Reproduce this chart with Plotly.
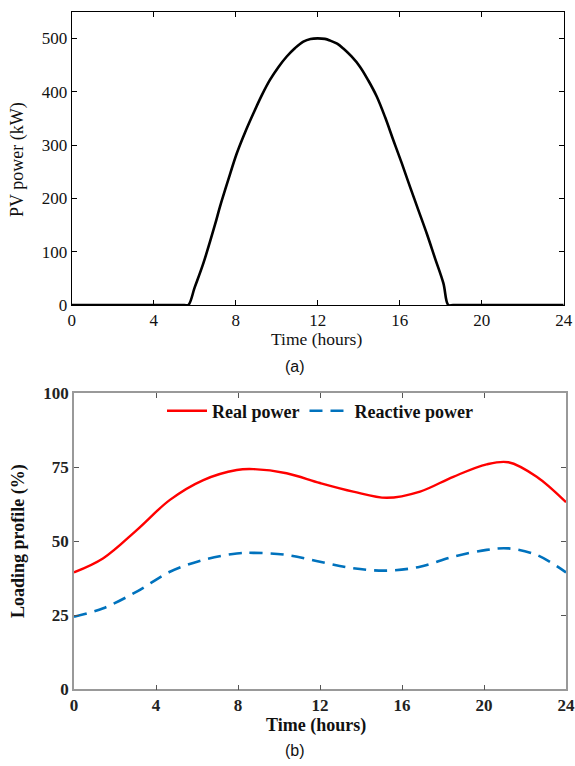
import plotly.graph_objects as go

# ---- Data: (a) PV power ----
pv_hours = [0, 2, 4, 5.0, 5.5, 5.69, 6.0, 6.42, 7.0, 7.23, 7.64, 8.05, 8.45, 8.86, 9.27, 9.67,
            10.08, 10.49, 10.9, 11.3, 11.65, 12.0, 12.35, 12.6, 12.95, 13.25, 13.65, 14.06,
            14.47, 14.88, 15.29, 15.69, 16.1, 16.5, 16.91, 17.32, 17.72, 18.13, 18.37,
            18.6, 19, 20, 22, 24]
pv_kw = [0, 0, 0, 0, 0, 0, 33, 78, 152, 184, 235, 284, 323, 359, 393, 422,
         446, 466, 482, 494, 499, 500, 499, 496, 490, 481, 466, 447,
         421, 391, 352, 309, 266, 222, 178, 134, 88, 41, 0,
         0, 0, 0, 0, 0]

# ---- Data: (b) loading profile ----
load_hours = [0, 1.43, 3.06, 4.68, 6.31, 7.94, 8.75, 10.37, 12.0, 13.62, 15.25, 16.88,
              18.5, 20.13, 21.19, 22.57, 24.0]
real_power = [39.5, 44.3, 53.8, 64.0, 70.7, 74.1, 74.4, 73.0, 69.7, 66.8, 64.7, 66.8,
              71.8, 76.0, 76.7, 71.8, 63.2]
reactive_power = [24.5, 27.4, 33.0, 39.7, 43.7, 45.9, 46.1, 45.4, 43.1, 40.9, 40.1, 41.4,
                  44.8, 47.1, 47.6, 45.4, 39.5]

x_ticks = [0, 4, 8, 12, 16, 20, 24]
pv_ticks = [0, 100, 200, 300, 400, 500]
load_ticks = [0, 25, 50, 75, 100]

SERIF = "Liberation Serif, Times New Roman, serif"
SANS = "Liberation Sans, Arial, sans-serif"

fig = go.Figure()
fig.add_trace(go.Scatter(x=pv_hours, y=pv_kw, mode="lines",
                         line=dict(color="black", width=2.6, shape="spline", smoothing=1.0),
                         showlegend=False, xaxis="x", yaxis="y"))
fig.add_trace(go.Scatter(x=load_hours, y=real_power, mode="lines", name="Real power",
                         line=dict(color="#ff0000", width=2.4, shape="spline", smoothing=1.0),
                         xaxis="x2", yaxis="y2"))
fig.add_trace(go.Scatter(x=load_hours, y=reactive_power, mode="lines", name="Reactive power",
                         line=dict(color="#0072BD", width=2.6, dash="13px,8px", shape="spline", smoothing=1.0),
                         xaxis="x2", yaxis="y2"))

W, H = 575, 766

def fx(p):
    return p / W
def fy(p):
    return 1 - p / H
def px_x(a, b):
    return [fx(a), fx(b)]
def px_y(top, bottom):
    return [fy(bottom), fy(top)]

common = dict(ticks="inside", ticklen=5, showline=True, mirror="ticks", showgrid=False,
              zeroline=False, automargin=False)

fig.update_layout(
    width=W, height=H, margin=dict(l=0, r=0, t=0, b=0),
    paper_bgcolor="white", plot_bgcolor="white",
    xaxis=dict(domain=px_x(71.7, 563.7), anchor="y", range=[0, 24], tickvals=x_ticks,
               tickcolor="black", linecolor="black", linewidth=1,
               tickfont=dict(family=SERIF, size=17, color="#111"), **common),
    yaxis=dict(domain=px_y(11.7, 305), anchor="x", range=[0, 550], tickvals=pv_ticks,
               tickcolor="black", linecolor="black", linewidth=1,
               tickfont=dict(family=SERIF, size=17, color="#111"), **common),
    xaxis2=dict(domain=px_x(74, 566), anchor="y2", range=[0, 24], tickvals=x_ticks,
                tickcolor="#555", linecolor="#999", linewidth=1.5,
                tickfont=dict(family=SERIF, size=17, color="#222", weight="bold"), **common),
    yaxis2=dict(domain=px_y(393.3, 689.3), anchor="x2", range=[0, 100], tickvals=load_ticks,
                tickcolor="#555", linecolor="#999", linewidth=1.5,
                tickfont=dict(family=SERIF, size=17, color="#222", weight="bold"), **common),
    legend=dict(orientation="h", x=fx(320), xanchor="center", y=fy(411), yanchor="middle",
                bgcolor="rgba(0,0,0,0)", font=dict(family=SERIF, size=18, color="#111", weight="bold"),
                itemwidth=40, tracegroupgap=0),
    annotations=[
        dict(text="Time (hours)", x=fx(316), y=fy(339), xref="paper", yref="paper",
             showarrow=False, xanchor="center", yanchor="middle",
             font=dict(family=SERIF, size=17.5, color="#111")),
        dict(text="PV power (kW)", x=fx(18), y=fy(160), xref="paper", yref="paper",
             showarrow=False, xanchor="center", yanchor="middle", textangle=-90,
             font=dict(family=SERIF, size=18, color="#111")),
        dict(text="(a)", x=fx(295), y=fy(366), xref="paper", yref="paper",
             showarrow=False, xanchor="center", yanchor="middle",
             font=dict(family=SANS, size=16, color="#111")),
        dict(text="<b>Time (hours)</b>", x=fx(316), y=fy(725), xref="paper", yref="paper",
             showarrow=False, xanchor="center", yanchor="middle",
             font=dict(family=SERIF, size=18, color="#111")),
        dict(text="<b>Loading profile (%)</b>", x=fx(18), y=fy(541), xref="paper", yref="paper",
             showarrow=False, xanchor="center", yanchor="middle", textangle=-90,
             font=dict(family=SERIF, size=18, color="#111")),
        dict(text="(b)", x=fx(295), y=fy(750), xref="paper", yref="paper",
             showarrow=False, xanchor="center", yanchor="middle",
             font=dict(family=SANS, size=16, color="#111")),
    ],
)

fig.write_html("out.html", config={"displayModeBar": False},
               post_script="document.body.style.margin='0';document.body.style.overflow='hidden';")
